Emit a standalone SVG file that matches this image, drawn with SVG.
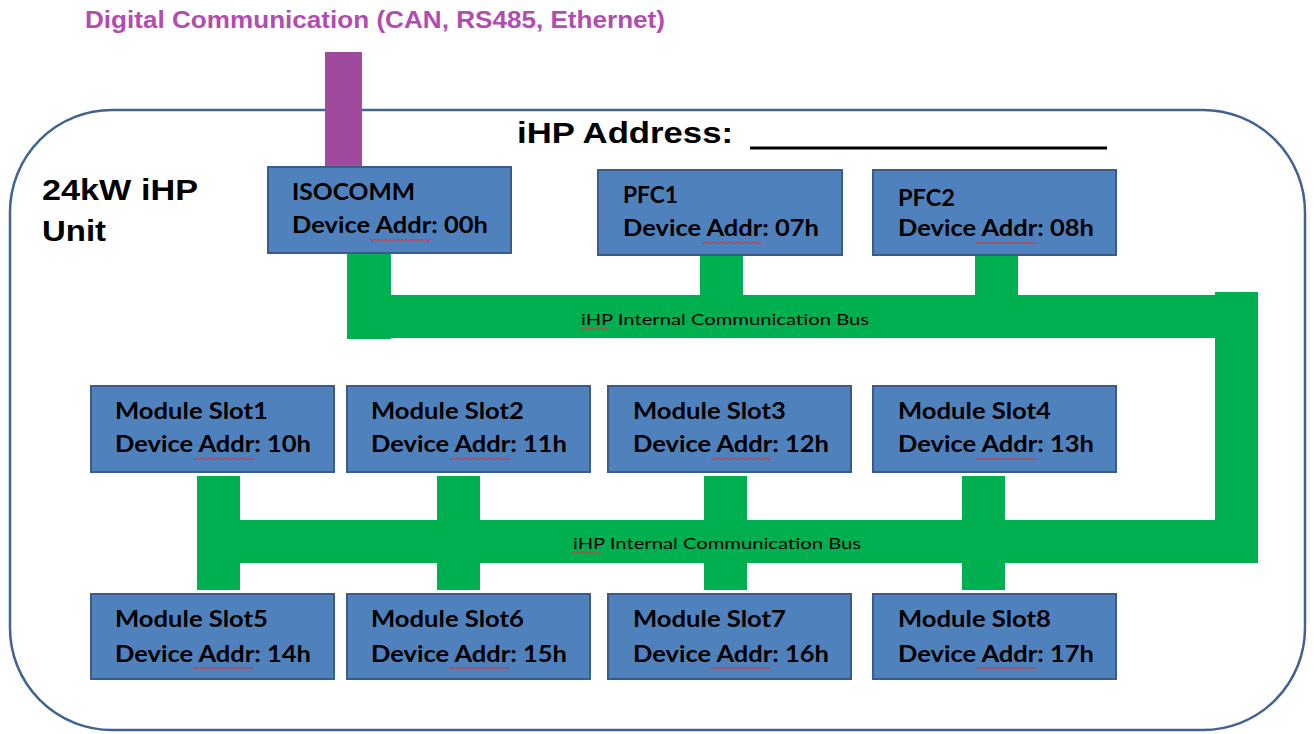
<svg xmlns="http://www.w3.org/2000/svg" xmlns:xlink="http://www.w3.org/1999/xlink" width="1314" height="734" viewBox="0 0 1314 734">
<style>
.box{fill:#4F81BD;stroke:#385D8A;stroke-width:2}
.lbl{font-family:Lato,"Open Sans","Liberation Sans",sans-serif;font-weight:bold;font-size:23px;fill:#000}
.bus{fill:#00B050}
.buslbl{font-family:Lato,"Open Sans","Liberation Sans",sans-serif;font-size:16px;fill:#000}
.big{font-family:"Liberation Sans",Arial,sans-serif;font-weight:bold;font-size:30px;fill:#000}
.sq{fill:none;stroke:#E03030;stroke-width:1}
</style>
<defs>
<polyline id="sq60" class="sq" points="0,0 2,2 4,0 6,2 8,0 10,2 12,0 14,2 16,0 18,2 20,0 22,2 24,0 26,2 28,0 30,2 32,0 34,2 36,0 38,2 40,0 42,2 44,0 46,2 48,0 50,2 52,0 54,2 56,0 58,2 60,0"/>
<polyline id="sq26" class="sq" points="0,0 2,2 4,0 6,2 8,0 10,2 12,0 14,2 16,0 18,2 20,0 22,2 24,0 26,2"/>
</defs>
<rect width="1314" height="734" fill="#fff"/>
<g id="title">
<text x="85" y="28" font-family="Liberation Sans,Arial,sans-serif" font-weight="bold" font-size="23" fill="#B14DB0" textLength="580" lengthAdjust="spacingAndGlyphs">Digital Communication (CAN, RS485, Ethernet)</text>
</g>
<g id="unit">
<rect x="10" y="110" width="1295" height="620" rx="102" ry="102" fill="none" stroke="#41638F" stroke-width="2.5"/>
<text class="big" x="42" y="200" textLength="156" lengthAdjust="spacingAndGlyphs">24kW iHP</text>
<text class="big" x="42" y="241" textLength="64" lengthAdjust="spacingAndGlyphs">Unit</text>
</g>
<g id="address">
<text class="big" x="517" y="143" textLength="216" lengthAdjust="spacingAndGlyphs">iHP Address:</text>
<line x1="750" y1="148" x2="1107" y2="148" stroke="#000" stroke-width="3"/>
</g>
<g id="connectors">
<rect x="325" y="52" width="37" height="116" style="fill:#A04A9E"/>
<rect class="bus" x="347" y="253" width="44" height="86"/>
<rect class="bus" x="347" y="295" width="911" height="43"/>
<rect class="bus" x="700" y="256" width="43" height="40"/>
<rect class="bus" x="975" y="256" width="43" height="40"/>
<rect class="bus" x="1215" y="292" width="43" height="271"/>
<rect class="bus" x="197" y="520" width="1061" height="43"/>
<rect class="bus" x="197" y="476" width="43" height="114"/>
<rect class="bus" x="437" y="476" width="43" height="114"/>
<rect class="bus" x="704" y="476" width="43" height="114"/>
<rect class="bus" x="962" y="476" width="43" height="114"/>
<text class="buslbl" x="581" y="325" textLength="288" lengthAdjust="spacingAndGlyphs">iHP Internal Communication Bus</text>
<use xlink:href="#sq26" x="582" y="328"/>
<text class="buslbl" x="573" y="549" textLength="288" lengthAdjust="spacingAndGlyphs">iHP Internal Communication Bus</text>
<use xlink:href="#sq26" x="574" y="552"/>
</g>
<g id="isocomm">
<rect class="box" x="268" y="167" width="243" height="86"/>
<text class="lbl" x="292" y="200" textLength="123" lengthAdjust="spacingAndGlyphs">ISOCOMM</text>
<text class="lbl" x="292" y="233" textLength="196" lengthAdjust="spacingAndGlyphs">Device Addr: 00h</text>
<use xlink:href="#sq60" x="370" y="239"/>
</g>
<g id="pfc1">
<rect class="box" x="598" y="170" width="244" height="85"/>
<text class="lbl" x="623" y="203" textLength="55" lengthAdjust="spacingAndGlyphs">PFC1</text>
<text class="lbl" x="623" y="236" textLength="196" lengthAdjust="spacingAndGlyphs">Device Addr: 07h</text>
<use xlink:href="#sq60" x="701" y="242"/>
</g>
<g id="pfc2">
<rect class="box" x="873" y="170" width="243" height="85"/>
<text class="lbl" x="898" y="206" textLength="57" lengthAdjust="spacingAndGlyphs">PFC2</text>
<text class="lbl" x="898" y="236" textLength="196" lengthAdjust="spacingAndGlyphs">Device Addr: 08h</text>
<use xlink:href="#sq60" x="976" y="242"/>
</g>
<g id="slot1">
<rect class="box" x="91" y="386" width="243" height="86"/>
<text class="lbl" x="115" y="419" textLength="153" lengthAdjust="spacingAndGlyphs">Module Slot1</text>
<text class="lbl" x="115" y="452" textLength="196" lengthAdjust="spacingAndGlyphs">Device Addr: 10h</text>
<use xlink:href="#sq60" x="193" y="458"/>
</g>
<g id="slot2">
<rect class="box" x="347" y="386" width="243" height="86"/>
<text class="lbl" x="371" y="419" textLength="153" lengthAdjust="spacingAndGlyphs">Module Slot2</text>
<text class="lbl" x="371" y="452" textLength="196" lengthAdjust="spacingAndGlyphs">Device Addr: 11h</text>
<use xlink:href="#sq60" x="449" y="458"/>
</g>
<g id="slot3">
<rect class="box" x="608" y="386" width="243" height="86"/>
<text class="lbl" x="633" y="419" textLength="153" lengthAdjust="spacingAndGlyphs">Module Slot3</text>
<text class="lbl" x="633" y="452" textLength="196" lengthAdjust="spacingAndGlyphs">Device Addr: 12h</text>
<use xlink:href="#sq60" x="711" y="458"/>
</g>
<g id="slot4">
<rect class="box" x="873" y="386" width="243" height="86"/>
<text class="lbl" x="898" y="419" textLength="153" lengthAdjust="spacingAndGlyphs">Module Slot4</text>
<text class="lbl" x="898" y="452" textLength="196" lengthAdjust="spacingAndGlyphs">Device Addr: 13h</text>
<use xlink:href="#sq60" x="976" y="458"/>
</g>
<g id="slot5">
<rect class="box" x="91" y="594" width="243" height="85"/>
<text class="lbl" x="115" y="627" textLength="153" lengthAdjust="spacingAndGlyphs">Module Slot5</text>
<text class="lbl" x="115" y="662" textLength="196" lengthAdjust="spacingAndGlyphs">Device Addr: 14h</text>
<use xlink:href="#sq60" x="193" y="667"/>
</g>
<g id="slot6">
<rect class="box" x="347" y="594" width="243" height="85"/>
<text class="lbl" x="371" y="627" textLength="153" lengthAdjust="spacingAndGlyphs">Module Slot6</text>
<text class="lbl" x="371" y="662" textLength="196" lengthAdjust="spacingAndGlyphs">Device Addr: 15h</text>
<use xlink:href="#sq60" x="449" y="667"/>
</g>
<g id="slot7">
<rect class="box" x="608" y="594" width="243" height="85"/>
<text class="lbl" x="633" y="627" textLength="153" lengthAdjust="spacingAndGlyphs">Module Slot7</text>
<text class="lbl" x="633" y="662" textLength="196" lengthAdjust="spacingAndGlyphs">Device Addr: 16h</text>
<use xlink:href="#sq60" x="711" y="667"/>
</g>
<g id="slot8">
<rect class="box" x="873" y="594" width="243" height="85"/>
<text class="lbl" x="898" y="627" textLength="153" lengthAdjust="spacingAndGlyphs">Module Slot8</text>
<text class="lbl" x="898" y="662" textLength="196" lengthAdjust="spacingAndGlyphs">Device Addr: 17h</text>
<use xlink:href="#sq60" x="976" y="667"/>
</g>
</svg>
